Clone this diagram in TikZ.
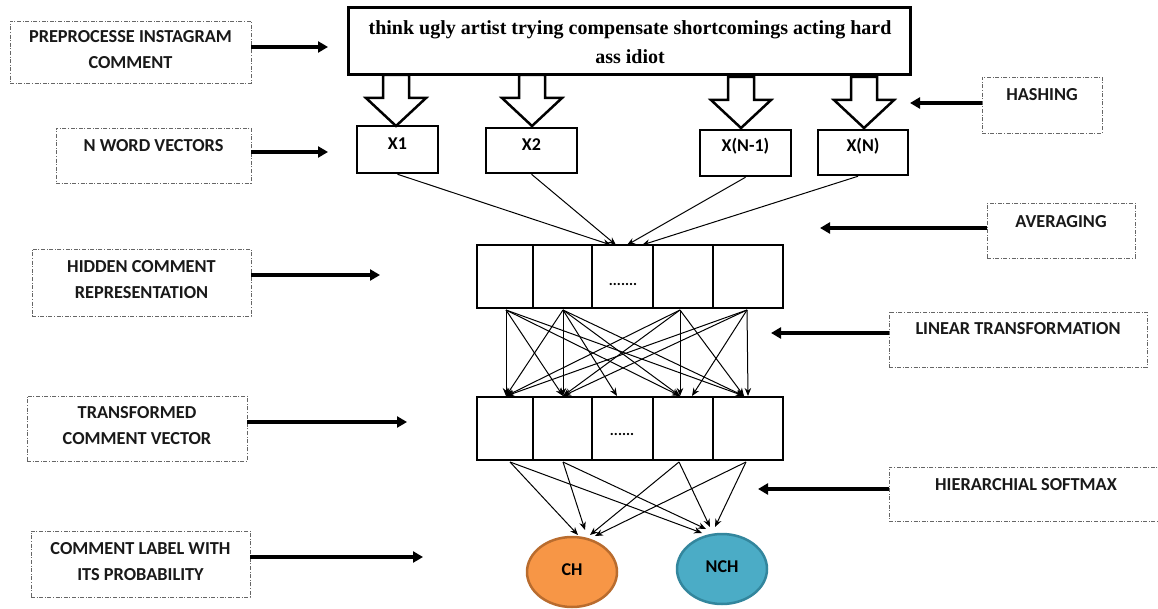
\documentclass[tikz,border=0pt]{standalone}
\usepackage{fontspec}
\setmainfont{Liberation Serif}
\newfontfamily\carl{Carlito}
\usetikzlibrary{arrows.meta,fit,shapes.geometric}
\definecolor{chfill}{HTML}{F79646}
\definecolor{chline}{HTML}{B96C2E}
\definecolor{nchfill}{HTML}{4BACC6}
\definecolor{nchline}{HTML}{33869D}
\begin{document}
\begin{tikzpicture}[x=1pt,y=-1pt,
  lbox/.style={draw=black!60, line width=0.9pt, dash pattern=on 4pt off 1.6pt on 1pt off 1.6pt, inner sep=0pt},
  ltext/.style={font=\carl\bfseries\fontsize{18.3}{26}\selectfont, align=center, text=black!90, inner sep=0pt},
  bigarrow/.style={line width=3.2pt, -{Triangle[length=10pt,width=11pt]}},
  thinarrow/.style={line width=1pt, -{Stealth[length=8pt,width=6.5pt]}},
  cell/.style={draw, line width=2pt, inner sep=0pt},
  xbox/.style={draw, line width=2.5pt, inner sep=0pt, font=\carl\bfseries\fontsize{18}{22}\selectfont},
  hollow/.pic={\draw[line width=2.5pt, fill=white, line join=miter] (-13,0) -- (-13,23) -- (-30,23) -- (0,51) -- (30,23) -- (13,23) -- (13,0) -- cycle;},
  outnode/.style={ellipse, line width=2.5pt, minimum width=90pt, minimum height=70pt, inner sep=0pt, font=\carl\bfseries\fontsize{18}{22}\selectfont}
]
\useasboundingbox (0,0) rectangle (1158,609);

% ---------- top comment box ----------
\node[draw, line width=3pt, fit={(348,8) (910,75)}, inner sep=0pt] (comment) {};
\node[font=\bfseries\fontsize{20}{29}\selectfont, align=center, inner sep=0pt] (commenttext) at (630,42)
  {think ugly artist trying compensate shortcomings acting hard\\ass idiot};

% ---------- word vector boxes ----------
\node[xbox, fit={(357,126) (438,173)}] (x1) {X1};
\node[xbox, fit={(486,128) (577,173)}] (x2) {X2};
\node[xbox, fit={(700,130) (791,176)}] (xn1) {X(N-1)};
\node[xbox, fit={(818,130) (908,175)}] (xn) {X(N)};

% hollow arrows (hashing)
\pic at (396,75) {hollow};
\pic at (532,75) {hollow};
\pic at (741,77) {hollow};
\pic at (864,77) {hollow};

% ---------- hidden comment representation ----------
\node[cell, fit={(477,245) (533,308)}] (h1) {};
\node[cell, fit={(533,245) (592,308)}] (h2) {};
\node[cell, fit={(592,245) (653,308)}] (h3) {};
\node[cell, fit={(653,245) (713,308)}] (h4) {};
\node[cell, fit={(713,245) (783,308)}] (h5) {};
\node[font=\carl\bfseries\fontsize{15}{18}\selectfont, inner sep=0pt] (hdots) at (623,284) {.......};

% ---------- transformed comment vector ----------
\node[cell, fit={(477,397) (533,460)}] (t1) {};
\node[cell, fit={(533,397) (592,460)}] (t2) {};
\node[cell, fit={(592,397) (653,460)}] (t3) {};
\node[cell, fit={(653,397) (713,460)}] (t4) {};
\node[cell, fit={(713,397) (783,460)}] (t5) {};
\node[font=\carl\bfseries\fontsize{15}{18}\selectfont, inner sep=0pt] (tdots) at (622,434) {......};

% ---------- output labels ----------
\node[outnode, draw=chline, fill=chfill] (ch) at (572,572) {\raisebox{4pt}{CH}};
\node[outnode, draw=nchline, fill=nchfill] (nch) at (722,569) {\raisebox{4pt}{NCH}};

% ---------- averaging connectors ----------
\coordinate (a1) at (611,245);
\coordinate (a2) at (616,245);
\coordinate (a3) at (627,245);
\coordinate (a4) at (642,245);
\draw[thinarrow] (x1.south) -- (a1);
\draw[thinarrow] (x2.south) -- (a2);
\draw[thinarrow] (xn1.south) -- (a3);
\draw[thinarrow] ([xshift=-5pt]xn.south) -- (a4);

% ---------- linear transformation connectors ----------
\coordinate (s1) at (506,310);
\coordinate (s2) at (563,310);
\coordinate (s3) at (680,310);
\coordinate (s4) at (747,310);
\coordinate (u1) at (506,396);
\coordinate (u2) at (563,396);
\coordinate (u3) at (617,396);
\coordinate (u4) at (680,396);
\coordinate (u5) at (692,396);
\coordinate (u6) at (744,396);
\coordinate (u7) at (748,396);
\foreach \t in {u1,u2,u4,u6} \draw[thinarrow] (s1) -- (\t);
\foreach \t in {u1,u2,u3,u4,u6} \draw[thinarrow] (s2) -- (\t);
\foreach \t in {u1,u2,u4,u6} \draw[thinarrow] (s3) -- (\t);
\foreach \t in {u1,u2,u5,u7} \draw[thinarrow] (s4) -- (\t);

% ---------- hierarchical softmax connectors ----------
\coordinate (r1) at (510,462);
\coordinate (r2) at (563,462);
\coordinate (r3) at (679,462);
\coordinate (r4) at (746,462);
\coordinate (c1) at (578,535);
\coordinate (c2) at (585,530);
\coordinate (c3) at (590,535);
\coordinate (c4) at (595,536);
\coordinate (n1) at (702,533);
\coordinate (n2) at (706,529);
\coordinate (n3) at (710,527);
\coordinate (n4) at (715,527);
\draw[thinarrow] (r1) -- (c1);
\draw[thinarrow] (r1) -- (n1);
\draw[thinarrow] (r2) -- (c2);
\draw[thinarrow] (r2) -- (n2);
\draw[thinarrow] (r3) -- (c3);
\draw[thinarrow] (r3) -- (n3);
\draw[thinarrow] (r4) -- (c4);
\draw[thinarrow] (r4) -- (n4);

% ---------- left description boxes ----------
\node[lbox, fit={(10,21) (251,83)}] (prebox) {};
\node[ltext] (pretext) at (130.5,50) {PREPROCESSE INSTAGRAM\\COMMENT};
\node[lbox, fit={(56,128) (251,183)}] (nwvbox) {};
\node[ltext] (nwvtext) at (153.5,146) {N WORD VECTORS};
\node[lbox, fit={(32,249) (251,316)}] (hidbox) {};
\node[ltext] (hidtext) at (141.5,280) {HIDDEN COMMENT\\REPRESENTATION};
\node[lbox, fit={(27,396) (247,461)}] (trbox) {};
\node[ltext] (trtext) at (137,426) {TRANSFORMED\\COMMENT VECTOR};
\node[lbox, fit={(31,531) (250,597)}] (labbox) {};
\node[ltext] (labtext) at (140.5,562) {COMMENT LABEL WITH\\ITS PROBABILITY};

% ---------- right description boxes ----------
\node[lbox, fit={(982,77) (1102,133)}] (hashbox) {};
\node[ltext] (hashtext) at (1042,95) {HASHING};
\node[lbox, fit={(987,203) (1135,258)}] (avgbox) {};
\node[ltext] (avgtext) at (1061,222) {AVERAGING};
\node[lbox, fit={(889,312) (1147,367)}] (linbox) {};
\node[ltext] (lintext) at (1018,329) {LINEAR TRANSFORMATION};
\node[lbox, fit={(889,467) (1163,521)}] (softbox) {};
\node[ltext] (softtext) at (1026,485) {HIERARCHIAL SOFTMAX};

% ---------- description arrows ----------
\coordinate (pretip) at (328,47);
\coordinate (nwvtip) at (328,152);
\coordinate (hidtip) at (380,275);
\coordinate (trtip) at (407,422);
\coordinate (labtip) at (423,557);
\coordinate (hashtip) at (910,103);
\coordinate (avgtip) at (820,228);
\coordinate (lintip) at (771,333);
\coordinate (softtip) at (758,489);
\draw[bigarrow] (prebox.east |- pretip) -- (pretip);
\draw[bigarrow] (nwvbox.east |- nwvtip) -- (nwvtip);
\draw[bigarrow] (hidbox.east |- hidtip) -- (hidtip);
\draw[bigarrow] (trbox.east |- trtip) -- (trtip);
\draw[bigarrow] (labbox.east |- labtip) -- (labtip);
\draw[bigarrow] (hashbox.west |- hashtip) -- (hashtip);
\draw[bigarrow] (avgbox.west |- avgtip) -- (avgtip);
\draw[bigarrow] (linbox.west |- lintip) -- (lintip);
\draw[bigarrow] (softbox.west |- softtip) -- (softtip);
\end{tikzpicture}
\end{document}
